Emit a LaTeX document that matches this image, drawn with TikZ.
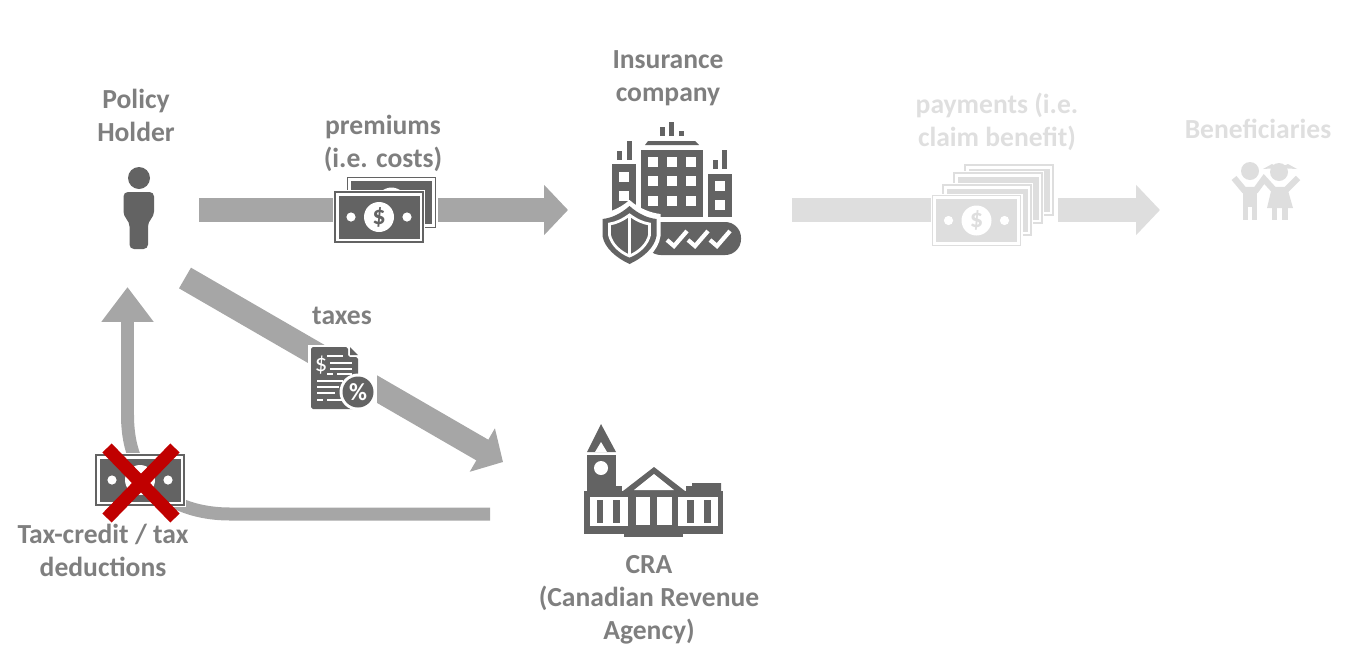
\documentclass[tikz,border=0pt]{standalone}
\usepackage{fontspec}
\setmainfont{Carlito}
\usetikzlibrary{arrows.meta}
\definecolor{icondark}{HTML}{636363}
\definecolor{iconlight}{HTML}{DEDEDE}
\definecolor{arrowgray}{HTML}{A6A6A6}
\definecolor{labelgray}{HTML}{7F7F7F}
\definecolor{labellight}{HTML}{DFDFDF}
\definecolor{crossred}{HTML}{C00000}
\tikzset{
	lbl/.style={font=\fontsize{15.7}{18.7}\selectfont\bfseries,align=center,text=labelgray,inner sep=0pt},
	lblfaint/.style={lbl,text=labellight},
	flow/.style={line width=13.6pt,draw=arrowgray,-{Triangle[length=13.6pt,width=27.8pt]}},
	flowfaint/.style={flow,draw=iconlight},
	curved/.style={line width=7.4pt,draw=arrowgray},
	pics/billrear/.style={code={
		\fill[white] (-46,-27) rectangle (46,27);
		\draw[#1,line width=0.8pt] (-44,-25) rectangle (44,25);
		\fill[#1] (-40.5,-21.5) rectangle (40.5,21.5);
		\fill[white] (0,0) circle[radius=15];
		\fill[white] (-28,0) circle[radius=4.6];
		\fill[white] (28,0) circle[radius=4.6];
	}},
	pics/bill/.style={code={
		\pic {billrear=#1};
		\node[text=#1,font=\fontsize{15}{15}\selectfont\bfseries,inner sep=0pt] (-sign) at (0,0) {\$};
	}},
}
\begin{document}
\begin{tikzpicture}[x=0.02cm,y=-0.02cm]
	\useasboundingbox (0,0) rectangle (1355,670);

	\coordinate (premiumstart) at (199,210);
	\coordinate (premiumend) at (568,210);
	\coordinate (paystart) at (792,210);
	\coordinate (paygap) at (935,210);
	\coordinate (payrestart) at (1058,210);
	\coordinate (payend) at (1160,210);
	\coordinate (taxstart) at (185,278);
	\coordinate (taxend) at (503,462);
	\coordinate (creditstart) at (490,514);
	\coordinate (creditbend) at (230,514);
	\coordinate (creditup) at (127.5,415);
	\coordinate (creditend) at (127.5,287);

	\draw[flow] (premiumstart) -- (premiumend);
	\draw[flowfaint,-] (paystart) -- (paygap);
	\draw[flowfaint] (payrestart) -- (payend);
	\draw[flow] (taxstart) -- (taxend);
	\draw[curved] (creditstart) -- (creditbend) .. controls (180,514) and (127.5,490) .. (creditup);
	\draw[curved,-{Triangle[length=19.8pt,width=28.4pt]}] (creditup) -- (creditend);

	\node[lbl] (holder) at (136,115.5) {Policy\\Holder};
	\node[lbl] (premiums) at (383,143.5) {premiums\\(i.e. costs)};
	\node[lbl] (insurer) at (668,78) {Insurance\\company};
	\node[lblfaint] (payments) at (997,122) {payments (i.e.\\claim benefit)};
	\node[lblfaint] (beneficiaries) at (1258,129) {Beneficiaries};
	\node[lbl] (taxes) at (342,316) {taxes};
	\node[lbl] (credit) at (103,550.5) {Tax-credit / tax\\deductions};
	\node[lbl] (cra) at (649,600) {CRA\\(Canadian Revenue\\Agency)};

	\fill[icondark] (139,178) circle[radius=11];
	\fill[icondark,rounded corners=2.5pt] (123.5,216) -- (123.5,192) -- (154,192) -- (154,216) -- (148,222) -- (148,249) -- (129.5,249) -- (129.5,222) -- cycle;

	\pic (billback) at (391.5,202.5) {billrear=icondark};
	\pic (billfront) at (379,217) {bill=icondark};

	\foreach \wx/\wy/\wh in {660/127/9,669/122/14,679/131/5,617/151/9,627/141/19,713/160/9,722/150/19}{
		\fill[icondark] (\wx,\wy) rectangle ++(4.6,\wh);
	}
	\fill[icondark] (645,145) -- (648,141) -- (695,141) -- (699,145) -- cycle;
	\fill[icondark] (641,150) rectangle (703,217);
	\fill[icondark] (612,164) rectangle (636,212);
	\fill[icondark] (708,174) rectangle (732,217);
	\foreach \wx in {648,667,686}{
		\foreach \wy in {157,176,196}{
			\fill[white] (\wx,\wy) rectangle ++(10,10);
		}
	}
	\foreach \wy in {172,191}{
		\fill[white] (619,\wy) rectangle ++(10,10);
	}
	\foreach \wy in {181,200}{
		\fill[white] (715,\wy) rectangle ++(10,10);
	}
	\fill[icondark,rounded corners=9pt] (645,222) -- (741,222) -- (741,255) -- (645,255) -- cycle;
	\foreach \wx in {677,698,720}{
		\draw[white,line width=2.4pt] (\wx-10,240) -- (\wx-3,246) -- (\wx+10,231);
	}
	\begin{scope}[shift={(629.5,233)}]
		\fill[white] (0,-33) .. controls (10,-24) and (22,-20) .. (31,-19) -- (31,3) .. controls (29,18) and (15,30) .. (0,36) .. controls (-15,30) and (-29,18) .. (-31,3) -- (-31,-19) .. controls (-22,-20) and (-10,-24) .. (0,-33) -- cycle;
		\fill[icondark] (0,-27) .. controls (9,-19) and (18,-15) .. (27,-14) -- (27,3) .. controls (25,15) and (13,25) .. (0,31) .. controls (-13,25) and (-25,15) .. (-27,3) -- (-27,-14) .. controls (-18,-15) and (-9,-19) .. (0,-27) -- cycle;
		\draw[white,line width=1.6pt,fill=icondark] (0,-18) .. controls (7,-13) and (13,-10) .. (20,-9) -- (20,2) .. controls (18,11) and (10,19) .. (0,23) .. controls (-10,19) and (-18,11) .. (-20,2) -- (-20,-9) .. controls (-13,-10) and (-7,-13) .. (0,-18) -- cycle;
		\draw[white,line width=1.6pt] (0,-18) -- (0,23);
	\end{scope}

	\foreach \bx/\by in {1009/190,998/198,987/210}{
		\pic at (\bx,\by) {billrear=iconlight};
	}
	\pic (billpay) at (976.5,220.5) {bill=iconlight};

	\fill[iconlight] (1250,171) circle[radius=9];
	\fill[iconlight] (1279,172) circle[radius=9];
	\fill[iconlight] (1279,168) -- (1272,164) -- (1263,169) -- cycle;
	\fill[iconlight] (1279,168) -- (1288,164) -- (1297,169) -- cycle;
	\draw[iconlight,line width=3.6pt] (1234,178) -- (1244,190) -- (1256,190) -- (1264,179) -- (1274,190) -- (1286,190) -- (1298,178);
	\fill[iconlight] (1243,189) rectangle (1257,220);
	\fill[white] (1248,207) rectangle (1252,220);
	\fill[iconlight] (1272,187) -- (1287,187) -- (1293,208) -- (1267,208) -- cycle;
	\fill[iconlight] (1272,208) rectangle (1277,220);
	\fill[iconlight] (1282,208) rectangle (1288,220);

	\fill[white] (308,345) rectangle (377,412);
	\fill[icondark,rounded corners=1pt] (311,347) -- (348,347) -- (348,357) -- (358,357) -- (358,409) -- (311,409) -- cycle;
	\fill[icondark] (350,347) -- (358,355) -- (350,355) -- cycle;
	\foreach \lx/\ly/\lw in {327/356/16,330/363/22,330/369/22,327/374/6,337/374/15,317/381/26,317/387/22,317/393/18,317/400/6,327/400/17}{
		\draw[white,line width=1.3pt] (\lx,\ly) -- ++(\lw,0);
	}
	\node[text=white,font=\fontsize{14}{14}\selectfont,inner sep=0pt] (docsign) at (321,365) {\$};
	\fill[white] (358,392) circle[radius=18.5];
	\fill[icondark] (358,392) circle[radius=15.5];
	\node[text=white,font=\fontsize{14}{14}\selectfont\bfseries,inner sep=0pt] (docpct) at (358,392) {\%};

	\fill[icondark] (601,424) -- (616,452) -- (587,452) -- cycle;
	\fill[white] (601,442) -- (607,452) -- (595,452) -- cycle;
	\fill[icondark] (587,455) rectangle (616,491);
	\fill[white] (601,468) circle[radius=7];
	\fill[icondark] (616,486) rectangle (622,491);
	\fill[icondark] (654,467) -- (623,491) -- (685,491) -- cycle;
	\fill[white] (654,474) -- (634,490) -- (674,490) -- cycle;
	\fill[icondark] (686,491) -- (686,486) -- (692,486) -- (692,483) -- (721,483) -- (721,491) -- cycle;
	\fill[icondark] (584,491) rectangle (723,534);
	\fill[icondark] (624,534) rectangle (683,537);
	\fill[white] (590,497) rectangle (628,526);
	\fill[white] (678,497) rectangle (718,526);
	\fill[white] (636,497) rectangle (650,525);
	\fill[white] (657,497) rectangle (672,525);
	\foreach \bx/\bw in {597/6,613/7,687/7,704/7}{
		\fill[icondark] (\bx,500) rectangle ++(\bw,23);
	}

	\pic (billcredit) at (140,480) {billrear=icondark};
	\coordinate (crossa) at (107,448);
	\coordinate (crossb) at (175,518);
	\coordinate (crossc) at (175,448);
	\coordinate (crossd) at (107,518);
	\draw[crossred,line width=7.4pt] (crossa) -- (crossb);
	\draw[crossred,line width=7.4pt] (crossc) -- (crossd);
\end{tikzpicture}
\end{document}
